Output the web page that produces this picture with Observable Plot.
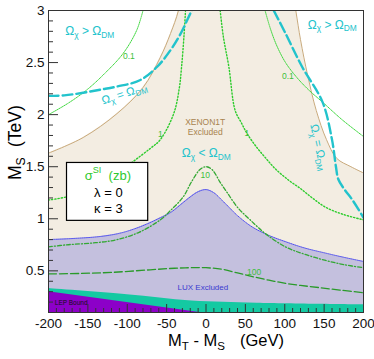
<!DOCTYPE html>
<html><head><meta charset="utf-8">
<script src="https://cdn.jsdelivr.net/npm/d3@7"></script>
<script src="https://cdn.jsdelivr.net/npm/@observablehq/plot@0.6"></script>
<style>body{margin:0;background:#fff;} #chart{width:374px;height:359px;}</style>
</head><body><div id="chart"></div>
<script>
// ---- data (x: MT - MS in GeV, y: MS in TeV) ----
const xenonX = [-200,-156,-113,-80,-58,-45,-35,-25,40,105,114,120,129,140,153,166,184,200];
const xenonY = [1.63,1.78,2.01,2.26,2.55,2.78,3.0,3.4,4.5,3.4,3.0,2.72,2.38,2.04,1.76,1.58,1.50,1.44];
const luxX = [-200,-170,-134,-110,-92,-75,-58,-45,-30,-20,-10,0,10,20,28,40,59,80,101,125,152,175,200];
const luxY = [0.80,0.81,0.83,0.86,0.90,0.95,1.01,1.06,1.15,1.21,1.26,1.28,1.25,1.18,1.12,1.03,0.92,0.84,0.78,0.72,0.67,0.63,0.59];
const bandX = [-200,-100,-18,65,200];
const bandY = [0.33,0.27,0.21,0.19,0.175];
const lepX = [-200,-8];
const lepY = [0.30,0.10];
const c01LX = [-200,-175,-151,-128,-105,-88,-80];
const c01LY = [2.0,2.11,2.24,2.40,2.59,2.81,3.0];
const c01RX = [75,82,90,101,115,130,148,173,200];
const c01RY = [3.0,2.82,2.66,2.50,2.36,2.24,2.12,1.95,1.79];
const c1LX = [-200,-177,-135,-96,-70,-58,-41,-34,-31,-28,-26];
const c1LY = [1.18,1.21,1.31,1.53,1.68,1.76,2.01,2.25,2.46,2.75,3.0];
const c1RX = [18,22,29,37,45,52,63,75,88,105,120,135,152,175,200];
const c1RY = [3.0,2.75,2.46,2.04,1.92,1.82,1.70,1.59,1.48,1.37,1.29,1.20,1.11,1.04,0.99];
const c10X = [-200,-177,-140,-113,-85,-58,-45,-29,-18,-8,0,8,18,27,40,56,75,101,125,152,175,200];
const c10Y = [0.73,0.75,0.77,0.80,0.87,0.99,1.08,1.21,1.36,1.47,1.50,1.47,1.35,1.25,1.11,0.99,0.86,0.73,0.66,0.60,0.56,0.53];
const c100X = [-200,-160,-120,-71,-40,-20,0,20,40,59,80,101,120,143,170,200];
const c100Y = [0.47,0.475,0.485,0.51,0.525,0.53,0.53,0.515,0.48,0.445,0.41,0.38,0.36,0.34,0.315,0.29];
const relicLX = [-200,-180,-156,-134,-113,-84,-62,-45,-32,-20,-16];
const relicLY = [2.18,2.185,2.21,2.24,2.27,2.33,2.46,2.62,2.78,2.97,3.03];
const relicRX = [86,101,122,148,160,165,168,176,186,200];
const relicRY = [3.0,2.78,2.46,2.12,1.76,1.50,1.38,1.28,1.18,1.01];
const xMajor = [-200,-150,-100,-50,0,50,100,150,200];
const xMinor = d3.range(-200,201,10).filter(v => v % 50 !== 0);
const yMajor = [0.5,1,1.5,2,2.5,3];
const yMinor = d3.range(1,31).map(v => v/10).filter(v => Math.round(v*10) % 5 !== 0);
const contourLabels = [{x:-98,y:2.56,t:"0.1"},{x:104,y:2.37,t:"0.1"},{x:-58,y:1.81,t:"1"},{x:52,y:1.82,t:"1"},{x:-1,y:1.42,t:"10"},{x:61,y:0.49,t:"100"}];

const zip = (xs, ys) => xs.map((x,i) => ({x, y: ys[i]}));
const xenon = zip(xenonX, xenonY), lux = zip(luxX, luxY), band = zip(bandX, bandY), lep = zip(lepX, lepY);
const FONT = "'Liberation Sans', Arial, Helvetica, sans-serif";
const TEAL = "#22c3cc";
const X0 = -200, Y0 = 0.1;
// tick lengths converted from pixels to data units (plot frame is 315 x 302 px)
const tx = px => px * 400 / 315, ty = px => px * 2.9 / 302;

const lineOpts = (stroke, w, dash) => ({x:"x", y:"y", stroke, strokeWidth:w, strokeDasharray:dash, curve:"catmull-rom", clip:true});

const chart = Plot.plot({
  width: 374, height: 359,
  marginLeft: 48, marginRight: 11, marginTop: 10, marginBottom: 47,
  style: {fontFamily: FONT, background: "white", overflow: "visible"},
  x: {domain: [-200,200]},
  y: {domain: [0.1,3]},
  marks: [
    Plot.areaY(xenon, {x:"x", y1:0.1, y2:"y", fill:"#f3ede2", curve:"catmull-rom", clip:true}),
    Plot.areaY(lux, {x:"x", y1:0.1, y2:"y", fill:"#c4c0de", curve:"catmull-rom", clip:true}),
    Plot.areaY(band, {x:"x", y1:0.1, y2:"y", fill:"#14c9a2", curve:"catmull-rom", clip:true}),
    Plot.areaY(lep, {x:"x", y1:0.1, y2:"y", fill:"#8c00c8", clip:true}),
    Plot.line(xenon, lineOpts("#c9aa7c", 1)),
    Plot.line(lux, lineOpts("#5050f0", 1, "1,1")),
    Plot.line(zip(c100X,c100Y), lineOpts("#2a9a2a", 1.3, "8,3")),
    Plot.line(zip(c10X,c10Y), lineOpts("#33a833", 1.3, "4,2,1,2")),
    Plot.line(zip(c1LX,c1LY), lineOpts("#2ccc2c", 1.4, "1.2,2")),
    Plot.line(zip(c1RX,c1RY), lineOpts("#2ccc2c", 1.4, "1.2,2")),
    Plot.line(zip(c01LX,c01LY), lineOpts("#3fd83f", 1, "1,1")),
    Plot.line(zip(c01RX,c01RY), lineOpts("#3fd83f", 1, "1,1")),
    Plot.line(zip(relicLX,relicLY), lineOpts(TEAL, 2.4, "10,4")),
    Plot.line(zip(relicRX,relicRY), lineOpts(TEAL, 2.4, "10,4")),
    Plot.text(contourLabels, {x:"x", y:"y", text:"t", fill:"#3cbf3c", fontSize:8.5, fontFamily: FONT}),
    Plot.text(["XENON1T"], {x:-1, y:1.93, text: d=>d, fill:"#a8834e", fontSize:8.5}),
    Plot.text(["Excluded"], {x:-1, y:1.83, text: d=>d, fill:"#a8834e", fontSize:8.5}),
    Plot.text(["LUX Excluded"], {x:-4, y:0.34, text: d=>d, fill:"#3a3ad0", fontSize:8}),
    Plot.text(["LEP Bound"], {x:-192, y:0.19, text: d=>d, fill:"#111", fontSize:6.5, textAnchor:"start"}),
    Plot.rect([0], {x1:-176.5, x2:-73.4, y1:0.98, y2:1.536, fill:"white", stroke:"black", strokeWidth:1.2}),
    Plot.text(["λ = 0"], {x:-124, y:1.25, text:d=>d, fill:"black", fontSize:13}),
    Plot.text(["κ = 3"], {x:-124, y:1.095, text:d=>d, fill:"black", fontSize:13}),
    // inward ticks
    Plot.ruleX(xMajor, {x:d=>d, y1:Y0, y2:Y0+ty(8), stroke:"#333"}),
    Plot.ruleX(xMinor, {x:d=>d, y1:Y0, y2:Y0+ty(4), stroke:"#333"}),
    Plot.ruleY(yMajor, {y:d=>d, x1:X0, x2:X0+tx(10), stroke:"#333"}),
    Plot.ruleY(yMinor, {y:d=>d, x1:X0, x2:X0+tx(5), stroke:"#333"}),
    Plot.frame({stroke:"#333", strokeWidth:1}),
    Plot.axisX(xMajor, {tickSize:0, tickPadding:6, fontSize:13.5, tickFormat:d=>String(d), label:null, fill:"#111"}),
    Plot.axisY(yMajor, {tickSize:0, tickPadding:4, fontSize:13.5, tickFormat:d=>String(d), label:null, fill:"#111"})
  ]
});
document.getElementById("chart").appendChild(chart);

// ---- rich text (sub/superscripts) placed through the plot's scales ----
const sx = chart.scale("x"), sy = chart.scale("y");
const px = v => sx.apply ? sx.apply(v) : 48 + (v+200)/400*315;
const py = v => sy.apply ? sy.apply(v) : 10 + (3-v)/2.9*302;
const svg = d3.select(chart);
const g = svg.append("g").attr("font-family", FONT);

function rich(x, y, parts, {size=12, fill="black", anchor="middle", rotate=0}={}) {
  const t = g.append("text")
    .attr("transform", `translate(${x},${y}) rotate(${rotate})`)
    .attr("text-anchor", anchor).attr("font-size", size).attr("fill", fill)
    .attr("dominant-baseline", "middle");
  let shift = 0;
  for (const p of parts) {
    const s = p.sub ? size*0.32 : p.sup ? -size*0.4 : 0;
    const ts = t.append("tspan").text(p.t).attr("dy", s - shift);
    if (p.sub || p.sup) ts.attr("font-size", size*0.7);
    if (p.x != null) ts.attr("x", p.x);
    shift = s;
  }
  return t;
}
const omegaGT = [{t:"Ω"},{t:"χ",sub:true},{t:" > Ω"},{t:"DM",sub:true}];
const omegaLT = [{t:"Ω"},{t:"χ",sub:true},{t:" < Ω"},{t:"DM",sub:true}];
const omegaEQ = [{t:"Ω"},{t:"χ",sub:true},{t:" = Ω"},{t:"DM",sub:true}];
rich(px(-147), py(2.79), omegaGT, {size:12, fill:TEAL});
rich(px(161), py(2.85), omegaGT, {size:12, fill:TEAL});
rich(px(1), py(1.62), omegaLT, {size:12, fill:TEAL});
rich(px(-103), py(2.19), omegaEQ, {size:11.5, fill:TEAL, rotate:-18});
rich(px(143), py(1.68), omegaEQ, {size:11.5, fill:TEAL, rotate:78});
rich(px(-124), py(1.40), [{t:"σ"},{t:"SI",sup:true},{t:"  (zb)"}], {size:13, fill:"#2fc92f"});

// axis titles
rich(168, 342, [{t:"M"},{t:"T",sub:true},{t:" - M"},{t:"S",sub:true},{t:"(GeV)", x:72}], {size:16.5, anchor:"start"});
rich(16, 180, [{t:"M"},{t:"S",sub:true},{t:"(TeV)", x:33}], {size:17.5, anchor:"start", rotate:-90});
</script>
</body></html>
